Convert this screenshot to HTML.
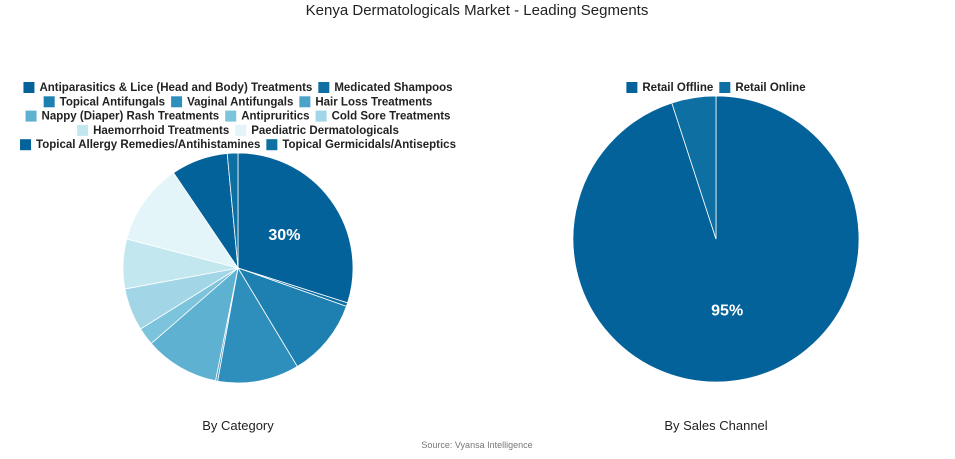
<!DOCTYPE html>
<html><head><meta charset="utf-8"><style>
body{margin:0;background:#fff;font-family:"Liberation Sans",sans-serif}
svg text{font-family:"Liberation Sans",sans-serif}
</style></head><body>
<svg id="c" width="955" height="454">
<text x="477" y="15" text-anchor="middle" font-size="15" fill="#222">Kenya Dermatologicals Market - Leading Segments</text>
<text x="238" y="430" text-anchor="middle" font-size="13" fill="#222">By Category</text>
<text x="716" y="430" text-anchor="middle" font-size="13" fill="#222">By Sales Channel</text>
<text x="477" y="448" text-anchor="middle" font-size="9" fill="#777">Source: Vyansa Intelligence</text>
<g id="left"></g><g id="right"></g><g id="leg"></g>
</svg>
<script>
const catLabels=["Antiparasitics & Lice (Head and Body) Treatments","Medicated Shampoos","Topical Antifungals","Vaginal Antifungals","Hair Loss Treatments","Nappy (Diaper) Rash Treatments","Antipruritics","Cold Sore Treatments","Haemorrhoid Treatments","Paediatric Dermatologicals","Topical Allergy Remedies/Antihistamines","Topical Germicidals/Antiseptics"];
const catValues=[30,0.5,11,11.5,0.3,10.5,2.5,6,7,11.5,8,1.5];
const catColors=["#04629a","#0e6fa3","#1e80b0","#2f8fbc","#4ba3c9","#5fb1d1","#7cc3dc","#a2d6e6","#c3e7ef","#e3f5f8","#04629a","#0e6fa3"];
const chLabels=["Retail Offline","Retail Online"];
const chValues=[95,5];
const chColors=["#04629a","#0e6fa3"];
const NS="http://www.w3.org/2000/svg";
function mk(t,a,p){const e=document.createElementNS(NS,t);for(const k in a)e.setAttribute(k,a[k]);p.appendChild(e);return e;}
function pie(g,vals,cols,labels,cx,cy,r,name){
  const tot=vals.reduce((a,b)=>a+b,0);let a0=0;
  vals.forEach((v,i)=>{
    const a1=a0+v/tot*2*Math.PI;
    const x0=cx+r*Math.sin(a0),y0=cy-r*Math.cos(a0),x1=cx+r*Math.sin(a1),y1=cy-r*Math.cos(a1);
    const p=mk("path",{d:`M${cx},${cy}L${x0},${y0}A${r},${r} 0 ${a1-a0>Math.PI?1:0} 1 ${x1},${y1}Z`,fill:cols[i],stroke:"#fff","stroke-width":0.8},g);
    
    
    const pct=v/tot*100;
    if(pct>=20){const am=(a0+a1)/2;const t=mk("text",{x:cx+r*0.5*Math.sin(am),y:cy-r*0.5*Math.cos(am)+6,"text-anchor":"middle","font-size":16,"font-weight":"bold",fill:"#fff"},g);t.textContent=Math.round(pct)+"%";
    
    }
    a0=a1;
  });
}
pie(document.getElementById("left"),catValues,catColors,catLabels,238,268,115,"category");
pie(document.getElementById("right"),chValues,chColors,chLabels,716,239,143,"channel");
const leg=document.getElementById("leg");
function legendRow(items,cx,y){
  const tmp=[];let w=0;
  items.forEach(([lab,col])=>{const t=mk("text",{x:0,y:y+4,"font-size":11.5,"font-weight":"bold",fill:"#222"},leg);t.textContent=lab;const tw=t.getComputedTextLength();tmp.push([t,col,tw]);w+=16+tw+6;});
  w-=6;let x=cx-w/2;
  tmp.forEach(([t,col,tw])=>{const r=mk("rect",{x:x,y:y-5,width:11,height:11,fill:col},leg);
    
    
    t.setAttribute('x',x+16);
    
    
    x+=16+tw+6;});
}
const rows=[[0,1],[2,3,4],[5,6,7],[8,9],[10,11]];
rows.forEach((r,i)=>legendRow(r.map(k=>[catLabels[k],catColors[k]]),238,87+i*14.3));
legendRow(chLabels.map((l,i)=>[l,chColors[i]]),716,87);
</script>
</body></html>
